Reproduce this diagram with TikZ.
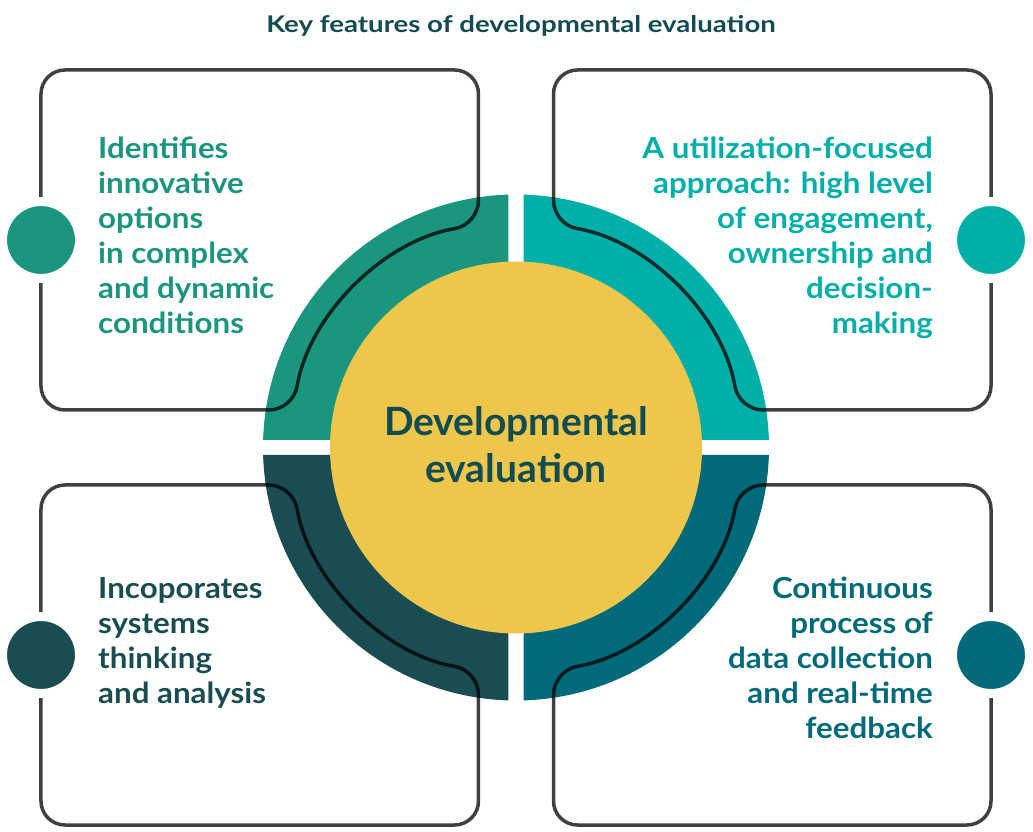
\documentclass[tikz,border=0pt]{standalone}
\usepackage{fontspec}
\setmainfont{Lato}[FakeStretch=1.08]
\newfontfamily\titlefont{Lato}[FakeStretch=1.2]
\newfontfamily\corefont{Lato}
\definecolor{tlcol}{HTML}{1A957E}
\definecolor{trcol}{HTML}{00AFA8}
\definecolor{blcol}{HTML}{1A4D52}
\definecolor{brcol}{HTML}{006A7B}
\definecolor{corecol}{HTML}{EDC74B}
\definecolor{inkcol}{HTML}{124B52}

\tikzset{
  boxline/.style={draw=black, draw opacity=0.75, line width=3.5, rounded corners=24},
  sidedot/.style={circle, minimum size=77, inner sep=0, draw=white, line width=9},
  featuretext/.style={font=\fontsize{29}{35}\selectfont\bfseries, inner sep=0},
}

\begin{document}
\begin{tikzpicture}[x=1pt, y=1pt, line cap=round, line join=round]
\useasboundingbox (-516,-384.5) rectangle (517,447.5);

% ring quarters
\fill[tlcol] (-7.5,7.5) -- (91.7:253) arc[start angle=91.7, end angle=178.3, radius=253] -- cycle;
\fill[trcol] (7.5,7.5) -- (1.7:253) arc[start angle=1.7, end angle=88.3, radius=253] -- cycle;
\fill[blcol] (-7.5,-7.5) -- (181.7:253) arc[start angle=181.7, end angle=268.3, radius=253] -- cycle;
\fill[brcol] (7.5,-7.5) -- (271.7:253) arc[start angle=271.7, end angle=358.3, radius=253] -- cycle;

\node (core) [circle, fill=corecol, minimum size=372, inner sep=0] at (0,0) {};

% boxes
\begin{scope}
\draw[boxline] (-250,377.5) -- (-475,377.5) -- (-475,37.5) -- (-222.9,37.5)
  arc[start angle=170.45, end angle=99.55, radius=226] -- (-37.5,377.5) -- cycle;
\end{scope}

\begin{scope}[xscale=-1]
\draw[boxline] (-250,377.5) -- (-475,377.5) -- (-475,37.5) -- (-222.9,37.5)
  arc[start angle=170.45, end angle=99.55, radius=226] -- (-37.5,377.5) -- cycle;
\end{scope}

\begin{scope}[yscale=-1]
\draw[boxline] (-250,377.5) -- (-475,377.5) -- (-475,37.5) -- (-222.9,37.5)
  arc[start angle=170.45, end angle=99.55, radius=226] -- (-37.5,377.5) -- cycle;
\end{scope}

\begin{scope}[xscale=-1, yscale=-1]
\draw[boxline] (-250,377.5) -- (-475,377.5) -- (-475,37.5) -- (-222.9,37.5)
  arc[start angle=170.45, end angle=99.55, radius=226] -- (-37.5,377.5) -- cycle;
\end{scope}

% dots on the box sides
\node (tldot) [sidedot, fill=tlcol] at (-475,207.5) {};
\node (trdot) [sidedot, fill=trcol] at (475,207.5) {};
\node (bldot) [sidedot, fill=blcol] at (-475,-207.5) {};
\node (brdot) [sidedot, fill=brcol] at (475,-207.5) {};

% texts (base = last line)
\node (title) [anchor=base, font=\titlefont\fontsize{23}{28}\selectfont\bfseries, text=inkcol] at (5,414.5) {Key features of developmental evaluation};
\node (corelabel) [anchor=base, align=center, inner sep=0, font=\corefont\fontsize{39}{47}\selectfont\bfseries, text=inkcol] at (0,-35.5) {Developmental\\evaluation};

\node (tltext) [featuretext, align=left, text=tlcol, anchor=base west] at (-418,113.5) {Identifies\\innovative\\options\\in complex\\and dynamic\\conditions};
\node (trtext) [featuretext, align=right, text=trcol, anchor=base east] at (417,113.5) {A utilization-focused\\approach: high level\\of engagement,\\ownership and\\decision-\\making};
\node (bltext) [featuretext, align=left, text=blcol, anchor=base west] at (-418,-255.5) {Incoporates\\systems\\thinking\\and analysis};
\node (brtext) [featuretext, align=right, text=brcol, anchor=base east] at (417,-290.5) {Continuous\\process of\\data collection\\and real-time\\feedback};
\end{tikzpicture}
\end{document}
